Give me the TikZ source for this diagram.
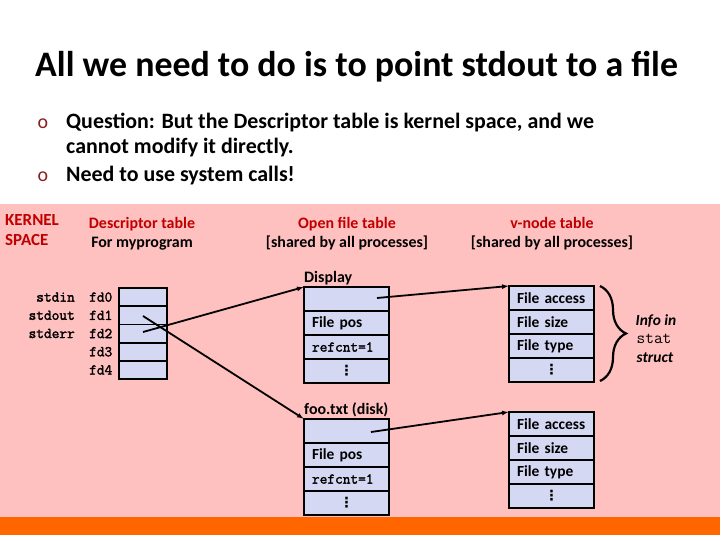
\documentclass[tikz,border=0pt]{standalone}
\usepackage{fontspec}
\setmainfont{Carlito}
\setmonofont{Latin Modern Mono}[AutoFakeBold=2]
\newfontfamily\dejavu{DejaVu Sans}
\usetikzlibrary{arrows.meta,decorations.pathreplacing}
\definecolor{pinkbg}{RGB}{255,192,192}
\definecolor{cellblue}{RGB}{212,216,242}
\definecolor{darkred}{RGB}{192,0,0}
\definecolor{bulletred}{RGB}{140,30,30}
\definecolor{orangebar}{RGB}{255,102,0}
\newcommand{\fsz}[1]{\fontsize{#1}{#1}\selectfont}
\begin{document}
\begin{tikzpicture}[x=1bp,y=-1bp,
  cell/.style={draw, fill=cellblue, line width=1.8bp, minimum height=24bp,
    text width=69bp, inner xsep=8bp, inner ysep=0pt, outer sep=0pt, anchor=north west,
    font=\bfseries\fsz{15.5}, align=left},
  dotcell/.style={cell, align=center, font=\dejavu\bfseries\fsz{14}},
  dcell/.style={draw, fill=cellblue, line width=1.8bp, minimum height=18.2bp,
    minimum width=48bp, inner sep=0pt, outer sep=0pt, anchor=north west},
  lbl/.style={font=\bfseries\fsz{16}, inner sep=0pt, anchor=base},
  hdr/.style={lbl, text=darkred},
  mono/.style={font=\ttfamily\bfseries\fsz{15}, inner sep=0pt},
  conn/.style={line width=1.8bp, -{Latex[length=7bp,width=5bp]}},
  bul/.style={font=\fsz{20}, text=bulletred, inner sep=0pt, anchor=base},
  btext/.style={font=\bfseries\fsz{22}, inner sep=0pt, anchor=base west}]
\useasboundingbox (0,0) rectangle (720,540);
\fill[white] (0,0) rectangle (720,540);
\fill[pinkbg] (0,204) rectangle (720,517);
\fill[orangebar] (0,517) rectangle (720,535);

% title and bullets
\node[font=\bfseries\fsz{36}, inner sep=0pt, anchor=base west] (title) at (35,77) {All we need to do is to point stdout to a file};
\node[bul] (b1) at (43,129) {o};
\node[btext] (t1) at (66,129) {Question: But the Descriptor table is kernel space, and we};
\node[btext] (t2) at (66,154) {cannot modify it directly.};
\node[bul] (b2) at (43,182) {o};
\node[btext] (t3) at (66,182) {Need to use system calls!};

% headers
\node[hdr, font=\bfseries\fsz{17}, anchor=base west] (k1) at (5,226) {KERNEL};
\node[hdr, font=\bfseries\fsz{17}, anchor=base west] (k2) at (5,246) {SPACE};
\node[hdr] (h1) at (142,229) {Descriptor table};
\node[lbl] (h1b) at (142,248) {For myprogram};
\node[hdr] (h2) at (347,229) {Open file table};
\node[lbl] (h2b) at (347,248) {[shared by all processes]};
\node[hdr] (h3) at (552,229) {v-node table};
\node[lbl] (h3b) at (552,248) {[shared by all processes]};

% descriptor table
\node[dcell] (d0) at (119,288) {};
\node[dcell] (d1) at (d0.south west) {};
\node[dcell] (d2) at (d1.south west) {};
\node[dcell] (d3) at (d2.south west) {};
\node[dcell] (d4) at (d3.south west) {};
\foreach \i/\t in {0/fd0,1/fd1,2/fd2,3/fd3,4/fd4}{
  \node[mono, anchor=west] (fd\i) at ([xshift=-30bp]d\i.west) {\t};
}
\node[mono, anchor=east] (sin) at ([xshift=-44bp]d0.west) {stdin};
\node[mono, anchor=east] (sout) at ([xshift=-44bp]d1.west) {stdout};
\node[mono, anchor=east] (serr) at ([xshift=-44bp]d2.west) {stderr};

% open file table: Display
\node[lbl, anchor=base west] (displbl) at (304,283) {Display};
\node[cell] (a0) at (304,287) {};
\node[cell] (a1) at (a0.south west) {\mbox{File pos}};
\node[cell, font=\ttfamily\bfseries\fsz{15}] (a2) at (a1.south west) {\mbox{refcnt=1}};
\node[dotcell] (a3) at (a2.south west) {⋮};

% open file table: foo.txt
\node[lbl, anchor=base west] (foolbl) at (304,414) {foo.txt (disk)};
\node[cell] (f0) at (304,419) {};
\node[cell] (f1) at (f0.south west) {\mbox{File pos}};
\node[cell, font=\ttfamily\bfseries\fsz{15}] (f2) at (f1.south west) {\mbox{refcnt=1}};
\node[dotcell] (f3) at (f2.south west) {⋮};

% v-node tables
\node[cell] (v0) at (509,286) {\mbox{File access}};
\node[cell] (v1) at (v0.south west) {\mbox{File size}};
\node[cell] (v2) at (v1.south west) {\mbox{File type}};
\node[dotcell] (v3) at (v2.south west) {⋮};

\node[cell] (w0) at (509,412) {\mbox{File access}};
\node[cell] (w1) at (w0.south west) {\mbox{File size}};
\node[cell] (w2) at (w1.south west) {\mbox{File type}};
\node[dotcell] (w3) at (w2.south west) {⋮};

% brace and info
\draw[line width=2.2bp, decorate, decoration={brace, amplitude=26bp}] (600,286) -- (600,381);
\node[font=\bfseries\itshape\fsz{15.5}, inner sep=0pt, anchor=base] (i1) at (656,325) {Info in};
\node[font=\ttfamily\fsz{17}, inner sep=0pt, anchor=base] (i2) at (654,343) {stat};
\node[font=\bfseries\itshape\fsz{15.5}, inner sep=0pt, anchor=base] (i3) at (655,362) {struct};

% connectors
\coordinate (p1) at (143,316);
\coordinate (p2) at (143,332);
\coordinate (q1) at (377,298);
\coordinate (q2) at (371,432);
\draw[conn] (p1) -- (f0.north west);
\draw[conn] (p2) -- (a0.north west);
\draw[conn] (q1) -- (v0.north west);
\draw[conn] (q2) -- (w0.north west);
\end{tikzpicture}
\end{document}
